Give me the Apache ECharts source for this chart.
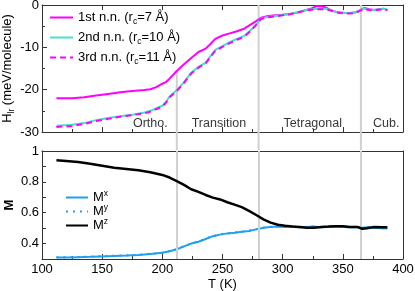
<!DOCTYPE html>
<html><head><meta charset="utf-8">
<script src="https://cdn.jsdelivr.net/npm/echarts@6/dist/echarts.min.js"></script>
<style>html,body{margin:0;padding:0;background:#fff}#c{width:415px;height:291px}</style>
</head><body><div id="c"></div>
<script>
// ---- data ----
const tempH = [112,125,135,145,155,165,175,185,190,195,200,203,206,212,218,224,230,236,240,244,250,256,262,268,274,278,282,288,294,300,306,312,318,324,328,332,336,340,344,348,352,356,360,364,368,372,376,380,384,387];
const hFirst = [-22.0,-22.0,-21.8,-21.4,-21.0,-20.6,-20.3,-20.1,-19.9,-19.4,-18.6,-18.2,-17.4,-15.6,-14.0,-12.5,-11.1,-10.3,-9.2,-8.0,-7.2,-6.7,-6.2,-5.6,-4.5,-3.8,-3.0,-2.6,-2.4,-2.3,-2.1,-1.8,-1.3,-0.8,-0.3,-0.3,-0.6,-1.2,-1.6,-1.8,-1.9,-1.9,-1.8,-1.3,-0.7,-1.0,-1.2,-1.0,-0.9,-1.2];
const hSecond = [-28.5,-28.3,-27.9,-27.2,-26.7,-26.3,-25.9,-25.4,-25.0,-24.4,-23.8,-22.9,-21.6,-20.1,-18.2,-16.0,-14.6,-13.6,-12.1,-10.6,-9.7,-8.8,-8.0,-7.3,-5.8,-4.6,-3.2,-2.8,-2.6,-2.3,-2.1,-1.7,-1.3,-1.0,-0.9,-0.9,-0.9,-1.2,-1.6,-1.8,-1.9,-1.9,-1.8,-1.3,-0.8,-1.1,-1.2,-1.0,-0.9,-1.1];
const hThird = [-28.8,-28.6,-28.1,-27.4,-26.9,-26.4,-26.0,-25.6,-25.2,-24.6,-24.0,-23.1,-21.8,-20.3,-18.4,-16.2,-14.8,-13.8,-12.3,-10.8,-9.9,-9.0,-8.2,-7.5,-6.0,-4.7,-3.3,-2.9,-2.7,-2.4,-2.2,-1.8,-1.4,-1.1,-1.0,-1.0,-1.0,-1.3,-1.7,-1.9,-2.0,-2.0,-1.9,-1.4,-0.9,-1.2,-1.3,-1.1,-1.0,-1.2];

const tempM = [112,120,130,140,150,160,170,180,190,200,206,212,218,224,230,236,242,248,254,260,266,272,278,284,290,296,302,308,314,320,326,332,338,344,350,356,362,366,370,376,382,387];
const mX = [0.310,0.310,0.312,0.314,0.317,0.320,0.322,0.326,0.333,0.340,0.350,0.363,0.382,0.400,0.412,0.430,0.448,0.458,0.466,0.470,0.476,0.482,0.492,0.502,0.508,0.510,0.508,0.510,0.505,0.508,0.510,0.505,0.508,0.510,0.507,0.505,0.508,0.503,0.506,0.502,0.500,0.497];
const mY = [0.311,0.311,0.313,0.315,0.318,0.321,0.323,0.327,0.334,0.341,0.351,0.364,0.383,0.401,0.413,0.431,0.449,0.459,0.467,0.471,0.477,0.483,0.493,0.503,0.509,0.511,0.509,0.511,0.506,0.509,0.511,0.506,0.509,0.511,0.508,0.506,0.509,0.504,0.507,0.503,0.501,0.498];
const mZ = [0.940,0.935,0.928,0.918,0.905,0.892,0.884,0.875,0.862,0.845,0.828,0.805,0.780,0.752,0.735,0.715,0.698,0.686,0.668,0.652,0.636,0.612,0.585,0.557,0.536,0.522,0.515,0.510,0.507,0.502,0.503,0.508,0.510,0.513,0.512,0.508,0.508,0.496,0.500,0.507,0.505,0.506];

const phaseBoundaries = [212, 280, 365];
const boundaryTopH = [-15.4, 0, 0];
const phaseNames = ['Ortho.', 'Transition', 'Tetragonal', 'Cub.'];
const phaseNameT = [190, 247, 325, 386];
const phaseNameH = -28.0;

// ---- chart ----
const FONT = 'Liberation Sans, Arial, Helvetica, sans-serif';
const FS = 13;
const axisCol = '#333';
const magenta = '#ff00ff';
const turq = '#45e0cc';
const blue = '#1ea0f0';
const zip = (xs, ys) => xs.map((x, i) => [x, ys[i]]);

function xAx(grid, pos, labels, ticks, minor) {
  return {
    type: 'value', gridIndex: grid, position: pos, min: 100, max: 400, interval: 50,
    axisLine: {show: true, onZero: false, lineStyle: {color: axisCol, width: 1}},
    axisTick: {show: ticks, inside: true, length: 5, lineStyle: {color: axisCol}},
    minorTick: {show: minor, splitNumber: 2, length: 3, lineStyle: {color: axisCol}},
    splitLine: {show: false}, minorSplitLine: {show: false},
    axisLabel: {show: labels, color: '#000', fontSize: FS, fontFamily: FONT, margin: 4}
  };
}

const lineStyleBase = {symbol: 'none', showSymbol: false, animation: false};

const boundarySeriesTop = phaseBoundaries.map((t, i) => ({
  type: 'line', xAxisIndex: 0, yAxisIndex: 0, clip: false, silent: true, z: 1,
  symbol: 'none', animation: false,
  lineStyle: {color: '#d0d0d0', width: 2},
  data: [[t, boundaryTopH[i]], [t, -34.3]]
}));

const richSub = {
  t: {fontSize: FS, color: '#000', fontFamily: FONT, lineHeight: 17},
  s: {fontSize: 8.5, color: '#000', fontFamily: FONT, verticalAlign: 'bottom', lineHeight: 9},
  p: {fontSize: 8.5, color: '#000', fontFamily: FONT, verticalAlign: 'top', lineHeight: 9}
};

const option = {
  animation: false,
  textStyle: {fontFamily: FONT},
  grid: [
    {left: 42, right: 12, top: 5, height: 127, containLabel: false, outerBoundsMode: 'none'},
    {left: 42, right: 12, top: 151, height: 108, containLabel: false, outerBoundsMode: 'none'}
  ],
  xAxis: [
    xAx(0, 'bottom', false, true, true),
    xAx(0, 'top', false, true, false),
    Object.assign(xAx(1, 'bottom', true, true, true), {
      name: 'T (K)', nameLocation: 'middle', nameGap: 19, nameMoveOverlap: false,
      nameTextStyle: {color: '#000', fontSize: FS, fontFamily: FONT}
    }),
    xAx(1, 'top', false, false, false)
  ],
  yAxis: [
    {
      type: 'value', gridIndex: 0, position: 'left', min: -30, max: 0, interval: 10,
      axisLine: {show: true, onZero: false, lineStyle: {color: axisCol}},
      axisTick: {show: true, inside: true, length: 5, lineStyle: {color: axisCol}},
      minorTick: {show: true, splitNumber: 2, length: 3, lineStyle: {color: axisCol}},
      splitLine: {show: false},
      axisLabel: {color: '#000', fontSize: FS, fontFamily: FONT, margin: 3},
      name: '{t|H}{s|lr}{t| (meV/molecule)}', nameLocation: 'middle', nameGap: 26, nameMoveOverlap: false,
      nameTextStyle: {color: '#000', fontFamily: FONT, rich: richSub}
    },
    {
      type: 'value', gridIndex: 0, position: 'right', min: -30, max: 0, interval: 10,
      axisLine: {show: true, onZero: false, lineStyle: {color: axisCol}},
      axisTick: {show: false}, axisLabel: {show: false}, splitLine: {show: false}
    },
    {
      type: 'value', gridIndex: 1, position: 'left', min: 0.3, max: 1, interval: 0.1,
      axisLine: {show: true, onZero: false, lineStyle: {color: axisCol}},
      axisTick: {show: true, inside: true, length: 4, lineStyle: {color: axisCol}},
      splitLine: {show: false},
      axisLabel: {
        color: '#000', fontSize: FS, fontFamily: FONT, margin: 3,
        formatter: v => {
          const k = Math.round(v * 10);
          if (k % 2 !== 0) return '';
          return k === 10 ? '1' : (k / 10).toFixed(1);
        }
      },
      name: 'M', nameLocation: 'middle', nameGap: 26, nameMoveOverlap: false,
      nameTextStyle: {color: '#000', fontSize: FS, fontWeight: 'bold', fontFamily: FONT}
    },
    {
      type: 'value', gridIndex: 1, position: 'right', min: 0.3, max: 1, interval: 0.1,
      axisLine: {show: true, onZero: false, lineStyle: {color: axisCol}},
      axisTick: {show: false}, axisLabel: {show: false}, splitLine: {show: false}
    }
  ],
  legend: [
    {data: ['1st'], left: 49, top: 11},
    {data: ['2nd'], left: 49, top: 31},
    {data: ['3rd'], left: 49, top: 51},
    {data: ['Mx'], left: 65, top: 189},
    {data: ['My'], left: 65, top: 203},
    {data: ['Mz'], left: 65, top: 217}
  ].map((l, i) => Object.assign({
    orient: 'vertical', padding: 0, itemGap: 0,
    itemWidth: i < 3 ? 23 : 22, itemHeight: 14,
    selectedMode: false,
    itemStyle: {opacity: 0},
    formatter: name => ({
      '1st': '{t|1st n.n. (r}{s|c}{t|=7 Å)}',
      '2nd': '{t|2nd n.n. (r}{s|c}{t|=10 Å)}',
      '3rd': '{t|3rd n.n. (r}{s|c}{t|=11 Å)}',
      'Mx': '{t|M}{p|x}',
      'My': '{t|M}{p|y}',
      'Mz': '{t|M}{p|z}'
    })[name],
    textStyle: {color: '#000', fontFamily: FONT, fontSize: FS, rich: richSub}
  }, l)),
  series: [
    ...boundarySeriesTop,
    {
      type: 'line', xAxisIndex: 2, yAxisIndex: 2, silent: true, symbol: 'none', z: 1,
      data: [],
      markLine: {
        silent: true, symbol: 'none', label: {show: false},
        lineStyle: {color: '#d0d0d0', width: 2, type: 'solid'},
        data: phaseBoundaries.map(t => ({xAxis: t}))
      }
    },
    {
      type: 'scatter', xAxisIndex: 0, yAxisIndex: 0, silent: true, symbolSize: 0, z: 5,
      data: phaseNames.map((n, i) => ({value: [phaseNameT[i], phaseNameH], name: n})),
      label: {show: true, position: 'inside', formatter: p => p.name, color: '#000', fontSize: 12.5, fontFamily: FONT}
    },
    Object.assign({type: 'line', name: '1st', xAxisIndex: 0, yAxisIndex: 0, z: 3,
      data: zip(tempH, hFirst), lineStyle: {color: magenta, width: 2}, itemStyle: {color: magenta}}, lineStyleBase),
    Object.assign({type: 'line', name: '2nd', xAxisIndex: 0, yAxisIndex: 0, z: 3,
      data: zip(tempH, hSecond), lineStyle: {color: turq, width: 2}, itemStyle: {color: turq}}, lineStyleBase),
    Object.assign({type: 'line', name: '3rd', xAxisIndex: 0, yAxisIndex: 0, z: 4,
      data: zip(tempH, hThird), lineStyle: {color: magenta, width: 2, type: [6, 4]}, itemStyle: {color: magenta}}, lineStyleBase),
    Object.assign({type: 'line', name: 'Mx', xAxisIndex: 2, yAxisIndex: 2, z: 3,
      data: zip(tempM, mX), lineStyle: {color: blue, width: 2}, itemStyle: {color: blue}}, lineStyleBase),
    Object.assign({type: 'line', name: 'My', xAxisIndex: 2, yAxisIndex: 2, z: 4,
      data: zip(tempM, mY), lineStyle: {color: blue, width: 2, type: [2, 5]}, itemStyle: {color: blue}}, lineStyleBase),
    Object.assign({type: 'line', name: 'Mz', xAxisIndex: 2, yAxisIndex: 2, z: 5,
      data: zip(tempM, mZ), lineStyle: {color: '#000', width: 2.5}, itemStyle: {color: '#000'}}, lineStyleBase)
  ]
};

const chart = echarts.init(document.getElementById('c'), null, {renderer: 'canvas'});
chart.setOption(option);
</script>
</body></html>
